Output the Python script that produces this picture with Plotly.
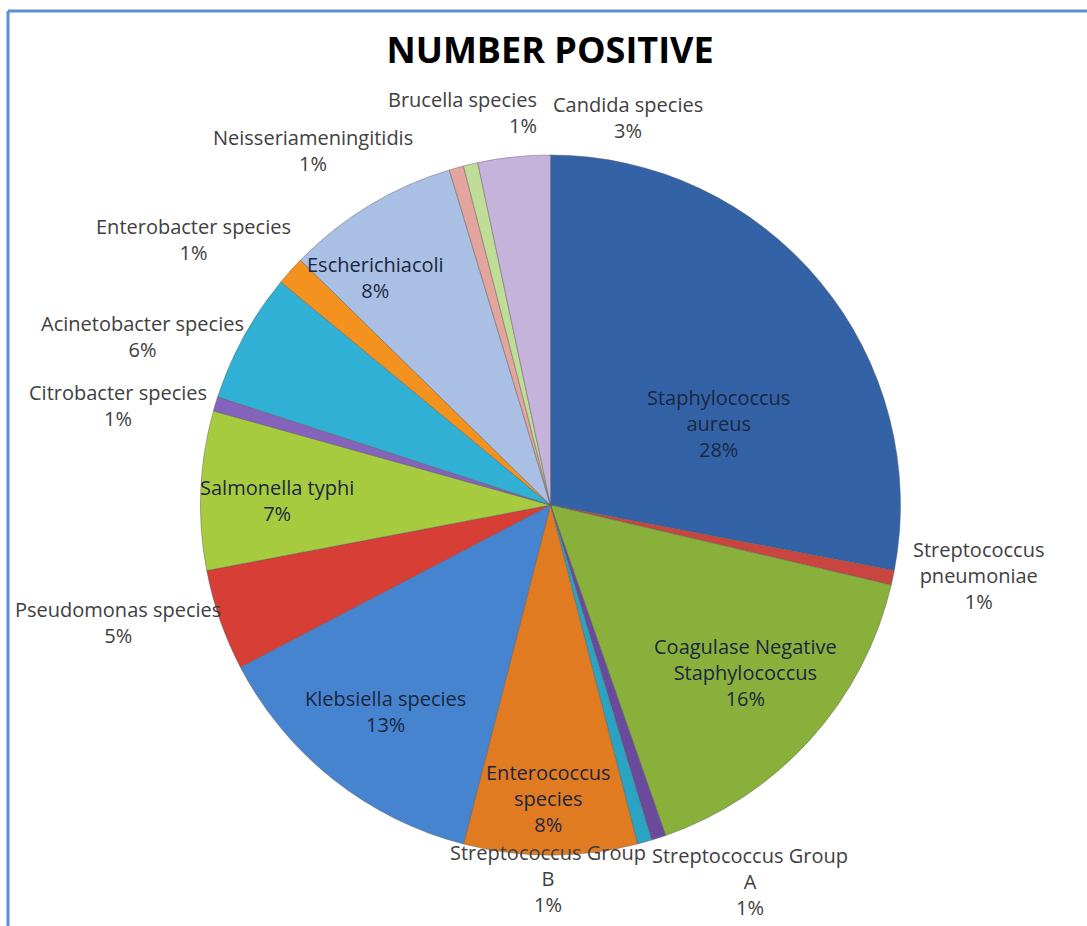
import plotly.graph_objects as go

species = [
    "Staphylococcus aureus", "Streptococcus pneumoniae", "Coagulase Negative Staphylococcus",
    "Streptococcus Group A", "Streptococcus Group B", "Enterococcus species",
    "Klebsiella species", "Pseudomonas species", "Salmonella typhi", "Citrobacter species",
    "Acinetobacter species", "Enterobacter species", "Escherichiacoli",
    "Neisseriameningitidis", "Brucella species", "Candida species",
]
label_text = [
    "Staphylococcus<br>aureus", "Streptococcus<br>pneumoniae", "Coagulase Negative<br>Staphylococcus",
    "Streptococcus Group<br>A", "Streptococcus Group<br>B", "Enterococcus<br>species",
    "Klebsiella species", "Pseudomonas species", "Salmonella typhi", "Citrobacter species",
    "Acinetobacter species", "Enterobacter species", "Escherichiacoli",
    "Neisseriameningitidis", "Brucella species", "Candida species",
]
counts = [42, 1, 24, 1, 1, 12, 20, 7, 11, 1, 9, 2, 12, 1, 1, 5]
inside = [True, False, True, False, False, True, True, False, True, False, False, False, True, False, False, False]
colors = [
    "#3363A6", "#C8463F", "#88B03A", "#6A4A9C", "#2BA3C2", "#E07B22",
    "#4684CF", "#D63E36", "#A7CB3F", "#8563BC", "#2FB0D4", "#F3921F",
    "#A9BFE4", "#E4A49E", "#C0DD98", "#C5B3DB",
]

# label anchor positions in window pixels (layout only)
label_px = [
    (718, 424), (978, 575), (745, 672), (750, 882), (548, 878), (548, 798),
    (385, 711), (118, 622), (277, 500), (118, 405), (142, 336), (193, 239),
    (375, 277), (313, 150), (462, 112), (628, 117),
]
label_align = ["center"] * 14 + ["right", "center"]

FONT = "Open Sans, Noto Sans, sans-serif"
L, T, B, W, H = 14, 155, 71, 1087, 926
PW, PH = W - L, H - T - B

fig = go.Figure(go.Pie(
    labels=species,
    values=counts,
    sort=False,
    direction="clockwise",
    rotation=0,
    automargin=False,
    marker=dict(colors=colors, line=dict(color="rgba(90,90,90,0.45)", width=1)),
    textinfo="none",
    showlegend=False,
    hoverinfo="label+value+percent",
))

total = sum(counts)
for name, c, ins, (px, py), al in zip(label_text, counts, inside, label_px, label_align):
    pct = int(100 * c / total + 0.5)
    fig.add_annotation(
        x=(px - L) / PW, y=(H - B - py) / PH, xref="paper", yref="paper",
        text=f"{name}<br>{pct}%", showarrow=False, align=al,
        xanchor="center", yanchor="middle",
        font=dict(family=FONT, size=20, color="#1B2740" if ins else "#404040"),
    )

fig.update_layout(
    width=W, height=H,
    margin=dict(l=L, r=0, t=T, b=B, autoexpand=False),
    paper_bgcolor="white", plot_bgcolor="white",
    title=dict(text="<b>NUMBER POSITIVE</b>", x=0.506, xanchor="center", y=0.946, yanchor="middle",
               font=dict(family=FONT, size=36, color="#000000")),
)

# frame lines (left and top) like the reference border
fig.add_shape(type="line", xref="paper", yref="paper",
              x0=(8 - L) / PW, x1=(8 - L) / PW, y0=(H - B - 11) / PH, y1=(H - B - 940) / PH,
              line=dict(color="#5B8FD6", width=3))
fig.add_shape(type="line", xref="paper", yref="paper",
              x0=(8 - L) / PW, x1=(1100 - L) / PW, y0=(H - B - 11) / PH, y1=(H - B - 11) / PH,
              line=dict(color="#5B8FD6", width=3))

fig.write_html("out.html")
